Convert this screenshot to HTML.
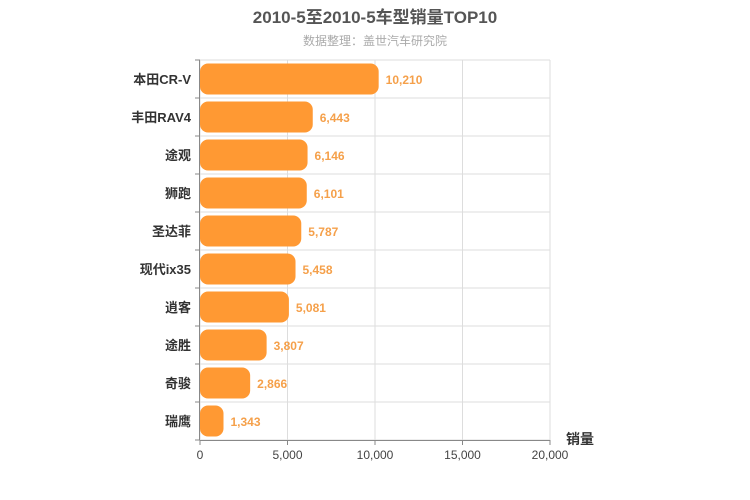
<!DOCTYPE html>
<html><head><meta charset="utf-8"><style>
body{margin:0;background:#fff;}
svg{display:block;font-family:"Liberation Sans","Noto Sans CJK SC",sans-serif;}
</style></head><body>
<svg id="c" width="750" height="500">
<text x="375" y="23" text-anchor="middle" font-size="17" font-weight="bold" fill="#555">2010-5至2010-5车型销量TOP10</text>
<text x="375" y="45" text-anchor="middle" font-size="12" fill="#aaa">数据整理：盖世汽车研究院</text>
<g id="grid"></g><g id="bars"></g><g id="axes"></g>
<text x="580" y="444" text-anchor="middle" font-size="14" font-weight="bold" fill="#333">销量</text>
</svg>
<script>
const categories=["本田CR-V","丰田RAV4","途观","狮跑","圣达菲","现代ix35","逍客","途胜","奇骏","瑞鹰"];
const values=[10210,6443,6146,6101,5787,5458,5081,3807,2866,1343];
const ticks=[0,5000,10000,15000,20000];
const tickLabels=["0","5,000","10,000","15,000","20,000"];
const NS="http://www.w3.org/2000/svg";
const L=200,R=550,T=60,B=440,band=(B-T)/categories.length;
const x=v=>L+v/20000*(R-L);
const y=i=>T+i*band;
function mk(tag,attrs,parent,text){const e=document.createElementNS(NS,tag);for(const k in attrs)e.setAttribute(k,attrs[k]);if(text!==undefined)e.textContent=text;document.getElementById(parent).appendChild(e);return e;}
ticks.forEach((t,i)=>{
 const g=mk("line",{x1:x(t),x2:x(t),y1:T,y2:B,stroke:"#ddd"},"grid");
 
 
 const tk=mk("line",{x1:x(t),x2:x(t),y1:B,y2:B+5,stroke:"#888"},"axes");
 
 
 const tl=mk("text",{x:x(t),y:B+19,"text-anchor":"middle","font-size":12,fill:"#444"},"axes",tickLabels[i]);
 
 
});
for(let i=0;i<=categories.length;i++){
 const g=mk("line",{x1:L,x2:R,y1:y(i),y2:y(i),stroke:"#ddd"},"grid");
 
 
 const tk=mk("line",{x1:L-5,x2:L,y1:y(i),y2:y(i),stroke:"#888"},"axes");
 
 
}
const ax=mk("line",{x1:L-0.5,x2:L-0.5,y1:T,y2:B,stroke:"#888"},"axes");


const bx=mk("line",{x1:L,x2:R,y1:B+0.5,y2:B+0.5,stroke:"#888"},"axes");


categories.forEach((c,i)=>{
 const r=mk("rect",{x:L,y:y(i)+3.5,width:x(values[i])-L,height:band-7,rx:8,fill:"#ff9933"},"bars");
 
 
 const v=mk("text",{x:x(values[i])+7,y:y(i)+band/2+5,"font-size":12,"font-weight":"bold",fill:"#f5a04a"},"bars",values[i].toLocaleString("en-US"));
 
 
 const l=mk("text",{x:L-9,y:y(i)+band/2+5,"text-anchor":"end","font-size":13,"font-weight":"bold",fill:"#333"},"axes",c);
 
 
});
</script>
</body></html>
